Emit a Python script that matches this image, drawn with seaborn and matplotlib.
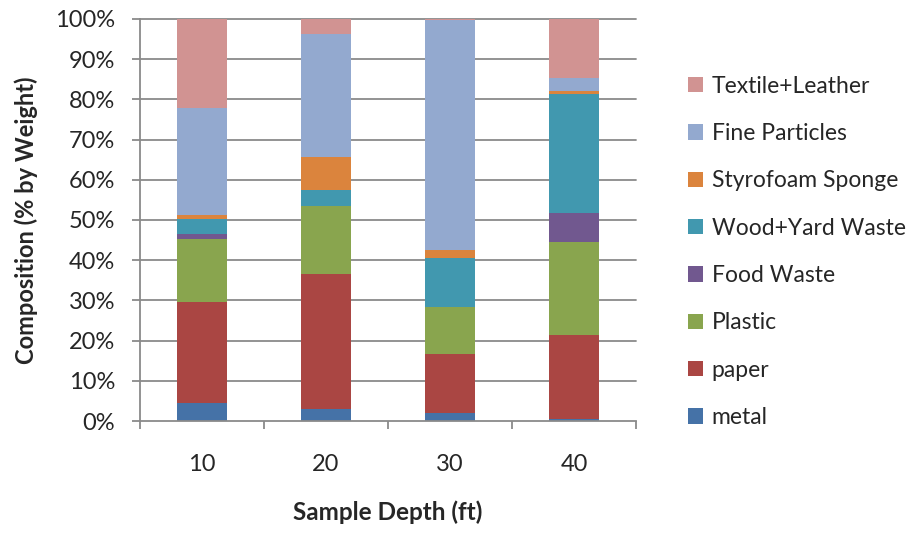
import matplotlib
matplotlib.use("Agg")
import matplotlib.pyplot as plt
from matplotlib.patches import Patch
import numpy as np
import pandas as pd
import seaborn as sns

# Sample depths (ft)
depths = ["10", "20", "30", "40"]

# Composition by weight (%) for each component at each depth, bottom to top
metal = [4.4, 2.9, 1.9, 0.5]
paper = [25.3, 33.75, 14.85, 21.0]
plastic = [15.5, 16.95, 11.65, 23.0]
food_waste = [1.2, 0.0, 0.0, 7.2]
wood_yard = [3.9, 3.9, 12.1, 29.7]
styrofoam = [1.0, 8.1, 2.1, 0.6]
fine_particles = [26.6, 30.7, 57.2, 3.4]
textile_leather = [22.2, 3.7, 0.2, 14.6]

components = ["metal", "paper", "Plastic", "Food Waste", "Wood+Yard Waste",
              "Styrofoam Sponge", "Fine Particles", "Textile+Leather"]
series = [metal, paper, plastic, food_waste, wood_yard,
          styrofoam, fine_particles, textile_leather]
colors = ["#4572A7", "#AA4643", "#89A54E", "#71588F", "#4198AF",
          "#DB843D", "#93A9CF", "#D19392"]

df = pd.DataFrame({"depth": depths})
for name, vals in zip(components, series):
    df[name] = vals

sns.set_style("white")
plt.rcParams["font.family"] = ["Lato", "DejaVu Sans"]

fig = plt.figure(figsize=(9.21, 5.33), dpi=100)
ax = fig.add_axes([140 / 921, 1 - 421 / 533, 496 / 921, 402 / 533])

bottom = np.zeros(len(depths))
for name, col in zip(components, colors):
    sns.barplot(data=df, x="depth", y=name, order=depths, color=col,
                bottom=bottom, width=0.4, linewidth=0, saturation=1, ax=ax,
                zorder=3)
    bottom = bottom + df[name].to_numpy()

grid_col = "#8a8a8a"
fs = 17
ax.set_ylim(0, 100)
ax.set_xlim(-0.5, 3.5)
yt = np.arange(0, 101, 10)
ax.set_yticks(yt)
ax.set_yticklabels([f"{v}%" for v in yt])
for v in yt[1:]:
    ax.axhline(v, color=grid_col, lw=1.3, zorder=1, clip_on=False)

# category labels centred under bars, tick marks at category boundaries
ax.set_xticks(np.arange(-0.5, 4, 1.0))
ax.set_xticklabels([])
ax.set_xticks(np.arange(len(depths)), minor=True)
ax.set_xticklabels(depths, minor=True)
ax.tick_params(axis="x", which="major", direction="out", length=6,
               width=1.3, color=grid_col, bottom=True)
ax.tick_params(axis="x", which="minor", length=0, pad=24, labelsize=fs)
ax.tick_params(axis="y", direction="out", length=6, width=1.3,
               color=grid_col, left=True, pad=12, labelsize=fs)

for side in ["top", "right"]:
    ax.spines[side].set_visible(False)
for side in ["left", "bottom"]:
    ax.spines[side].set_color(grid_col)
    ax.spines[side].set_linewidth(1.3)
    ax.spines[side].set_zorder(4)

ax.set_xlabel("Sample Depth (ft)", fontsize=17.5, fontweight="bold", labelpad=18)
ax.set_ylabel("Composition (% by Weight)", fontsize=17, fontweight="bold",
              labelpad=12)

handles = [Patch(facecolor=c, edgecolor="none", label=n)
           for n, c in zip(components, colors)][::-1]
fig.legend(handles=handles, loc="upper left", bbox_to_anchor=(667 / 921, 1 - 55 / 533),
           frameon=False, fontsize=16.5, handlelength=0.65, handleheight=0.65,
           handletextpad=0.4, labelspacing=1.15)

fig.savefig("out.png", dpi=100)
